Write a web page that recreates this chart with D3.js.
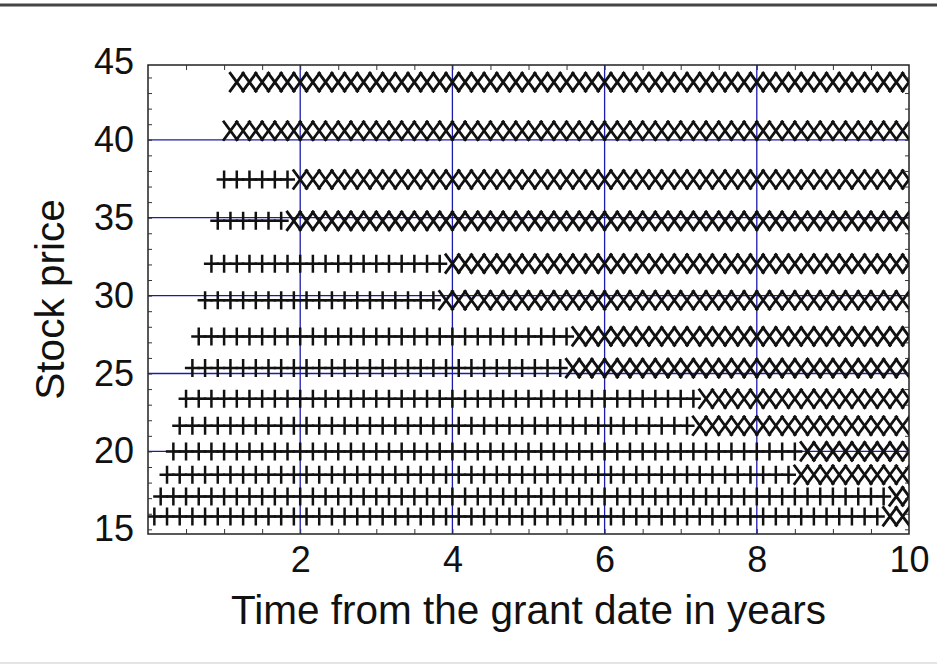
<!DOCTYPE html>
<html>
<head>
<meta charset="utf-8">
<script src="https://cdn.jsdelivr.net/npm/d3@7"></script>
<style>
  body { margin: 0; background: #fff; }
  svg { display: block; }
  text { font-family: "Liberation Sans", Arial, sans-serif; fill: #111; }
</style>
</head>
<body>
<svg id="chart" width="937" height="666"></svg>
<script>
// price levels of the lattice rows, bottom to top
let rowPrices   = [15.83, 17.11, 18.5, 20.0, 21.65, 23.38, 25.35, 27.38, 29.7, 32.05, 34.8, 37.45, 40.58, 43.7];
// month of the first node of each row
let rowStart    = [1, 2, 3, 4, 5, 6, 7, 8, 9, 10, 11, 12, 13, 14];
// month of the first "exercise" (x) node of each row
let rowExercise = [117, 118, 103, 104, 87, 88, 67, 68, 47, 48, 23, 24, 13, 14];
let nodeStep = 2;      // months between nodes on one row
let lastMonth = 120;

let xTicks = [2, 4, 6, 8, 10];
let yTicks = [15, 20, 25, 30, 35, 40, 45];
let gridX = [2, 4, 6, 8];
let gridY = [20, 25, 30, 35, 40];

let plot = {left: 148, right: 909, top: 65, bottom: 534};

let svg = d3.select('#chart');

let x = d3.scaleLinear().domain([0, 10]).range([plot.left, plot.right]);
let y = d3.scaleLinear().domain([14.7, 44.8]).range([plot.bottom, plot.top]);

// page rules
svg.append('line').attr('x1', 0).attr('x2', 937).attr('y1', 5).attr('y2', 5)
   .attr('stroke', '#444').attr('stroke-width', 3);
svg.append('line').attr('x1', 0).attr('x2', 937).attr('y1', 663).attr('y2', 663)
   .attr('stroke', '#e4e4e4').attr('stroke-width', 2);

svg.append('clipPath').attr('id', 'clip')
   .append('rect')
   .attr('x', plot.left).attr('y', plot.top)
   .attr('width', plot.right - plot.left).attr('height', plot.bottom - plot.top);

// grid
let grid = svg.append('g').attr('class', 'grid');
grid.selectAll('line.gx').data(gridX).enter().append('line')
    .attr('x1', d => x(d)).attr('x2', d => x(d))
    .attr('y1', plot.top).attr('y2', plot.bottom)
    .attr('stroke', '#1c1caa').attr('stroke-width', 1.3);
grid.selectAll('line.gy').data(gridY).enter().append('line')
    .attr('y1', d => y(d)).attr('y2', d => y(d))
    .attr('x1', plot.left).attr('x2', plot.right)
    .attr('stroke', '#1c1caa').attr('stroke-width', 1.3);

// rows: hold nodes (+, joined by a line) and exercise nodes (x)
let rows = rowPrices.map((p, i) => {
  let months = d3.range(rowStart[i], lastMonth + 1, nodeStep);
  return {
    price: p,
    hold: months.filter(m => m < rowExercise[i]).map(m => m / 12),
    exercise: months.filter(m => m >= rowExercise[i]).map(m => m / 12)
  };
});

let marks = svg.append('g').attr('clip-path', 'url(#clip)');
let line = d3.line().x(d => d[0]).y(d => d[1]);

rows.forEach(r => {
  let g = marks.append('g');
  if (r.hold.length) {
    g.append('path')
     .attr('d', line(r.hold.map(t => [x(t), y(r.price)])))
     .attr('fill', 'none').attr('stroke', '#111').attr('stroke-width', 2);
  }
  g.selectAll('path.plus').data(r.hold).enter().append('path')
   .attr('class', 'plus')
   .attr('transform', t => 'translate(' + x(t) + ',' + y(r.price) + ')')
   .attr('d', 'M-7.5,0H7.5M0,-9V9')
   .attr('fill', 'none').attr('stroke', '#111').attr('stroke-width', 2.5);
  g.selectAll('path.cross').data(r.exercise).enter().append('path')
   .attr('class', 'cross')
   .attr('transform', t => 'translate(' + x(t) + ',' + y(r.price) + ')')
   .attr('d', 'M-7.4,-10L7.4,10M-7.4,10L7.4,-10')
   .attr('fill', 'none').attr('stroke', '#111').attr('stroke-width', 2.8);
});

// frame
svg.append('rect')
   .attr('x', plot.left).attr('y', plot.top)
   .attr('width', plot.right - plot.left).attr('height', plot.bottom - plot.top)
   .attr('fill', 'none').attr('stroke', '#222').attr('stroke-width', 1.5);

// minor ticks, inside on all sides
let minorX = d3.range(0.5, 10, 0.5);
let minorY = d3.range(15, 45, 1);
svg.append('g').attr('transform', 'translate(0,' + plot.bottom + ')')
   .call(d3.axisBottom(x).tickValues(minorX).tickSize(-5).tickFormat(''))
   .call(g => g.select('.domain').remove());
svg.append('g').attr('transform', 'translate(0,' + plot.top + ')')
   .call(d3.axisTop(x).tickValues(minorX).tickSize(-5).tickFormat(''))
   .call(g => g.select('.domain').remove());
svg.append('g').attr('transform', 'translate(' + plot.left + ',0)')
   .call(d3.axisLeft(y).tickValues(minorY).tickSize(-4).tickFormat(''))
   .call(g => g.select('.domain').remove());
svg.append('g').attr('transform', 'translate(' + plot.right + ',0)')
   .call(d3.axisRight(y).tickValues(minorY).tickSize(-4).tickFormat(''))
   .call(g => g.select('.domain').remove());
svg.selectAll('.tick line').attr('stroke', '#333');

// tick labels
let xAxis = svg.append('g').attr('transform', 'translate(0,' + plot.bottom + ')')
   .call(d3.axisBottom(x).tickValues(xTicks).tickSize(0).tickPadding(12));
xAxis.select('.domain').remove();
xAxis.selectAll('text').attr('font-size', 36).attr('dy', '0.71em')
     .attr('font-family', '"Liberation Sans", Arial, sans-serif').attr('fill', '#111');

let yAxis = svg.append('g').attr('transform', 'translate(' + plot.left + ',0)')
   .call(d3.axisLeft(y).tickValues(yTicks).tickSize(0).tickPadding(14));
yAxis.select('.domain').remove();
yAxis.selectAll('text').attr('font-size', 36)
     .attr('font-family', '"Liberation Sans", Arial, sans-serif').attr('fill', '#111');

// axis titles
svg.append('text')
   .attr('x', (plot.left + plot.right) / 2).attr('y', 624)
   .attr('text-anchor', 'middle').attr('font-size', 40.5)
   .text('Time from the grant date in years');
svg.append('text')
   .attr('transform', 'translate(64,' + (plot.top + plot.bottom) / 2 + ') rotate(-90)')
   .attr('text-anchor', 'middle').attr('font-size', 40.5)
   .text('Stock price');
</script>
</body>
</html>
